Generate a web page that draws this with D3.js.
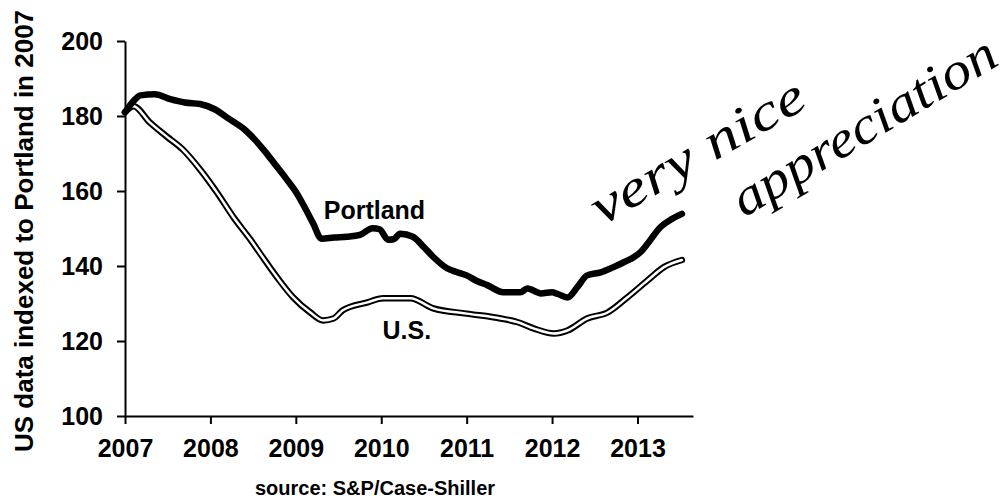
<!DOCTYPE html>
<html>
<head>
<meta charset="utf-8">
<script src="https://cdn.jsdelivr.net/npm/d3@7"></script>
<style>
  body { margin: 0; background: #fff; }
  svg { display: block; }
  .axis path, .axis line { stroke: #000; stroke-width: 2px; }
  .axis text { font-family: "Liberation Sans", Arial, sans-serif; font-weight: bold; font-size: 25px; fill: #000; }
  .lbl { font-family: "Liberation Sans", Arial, sans-serif; font-weight: bold; fill: #000; }
  .hand { font-family: "Liberation Serif", serif; font-style: italic; font-weight: normal; fill: #000; }
</style>
</head>
<body>
<div id="chart"></div>
<script>
// datos (año decimal, indice)
const portlandYears = [2007.0, 2007.1, 2007.18, 2007.35, 2007.53, 2007.7, 2007.88, 2008.05, 2008.2, 2008.4,
  2008.52, 2008.64, 2008.76, 2008.88, 2009.0, 2009.1, 2009.2, 2009.3, 2009.45, 2009.6,
  2009.75, 2009.9, 2009.98, 2010.08, 2010.15, 2010.22, 2010.37, 2010.5, 2010.61, 2010.77,
  2010.88, 2011.0, 2011.12, 2011.24, 2011.43, 2011.63, 2011.71, 2011.87, 2012.0, 2012.06,
  2012.18, 2012.3, 2012.41, 2012.57, 2012.7, 2012.84, 2012.96, 2013.04, 2013.12, 2013.27,
  2013.4, 2013.52];
const portlandValues = [181, 184, 185.5, 185.8, 184.5, 183.6, 183.2, 181.8, 179.5, 176.4,
  173.7, 170.5, 167, 163.5, 159.8, 155.8, 151.5, 147.3, 147.6, 147.8,
  148.3, 150.1, 149.8, 147, 147.2, 148.6, 147.8, 145, 142.4, 139.4,
  138.4, 137.5, 136, 134.9, 133, 133, 134, 132.7, 133, 132.6,
  131.6, 134.5, 137.5, 138.3, 139.5, 141, 142.4, 143.8, 146, 150.4,
  152.5, 153.9];

const usYears = [2007.0, 2007.1, 2007.29, 2007.49, 2007.68, 2007.88, 2008.08, 2008.27, 2008.47, 2008.58,
  2008.78, 2008.97, 2009.17, 2009.32, 2009.44, 2009.55, 2009.84, 2010.02, 2010.34, 2010.61,
  2011.0, 2011.4, 2011.6, 2011.79, 2012.02, 2012.18, 2012.41, 2012.65, 2012.88, 2013.12,
  2013.31, 2013.52];
const usValues = [181, 182.6, 178.3, 174.5, 171, 165.7, 159.5, 153, 147, 143.4,
  137, 131.6, 127.6, 125.5, 126, 128.2, 130.3, 131.4, 131.4, 128.7,
  127.3, 126, 125, 123.3, 122, 122.8, 126, 127.6, 131.6, 136.2,
  139.7, 141.6];

const yTicks = [100, 120, 140, 160, 180, 200];
const xTicks = [2007, 2008, 2009, 2010, 2011, 2012, 2013];

const width = 1003, height = 499;
const margin = { top: 41, left: 125 };
const innerW = 568, innerH = 375;

const svg = d3.select("#chart").append("svg")
  .attr("width", width)
  .attr("height", height);

const g = svg.append("g")
  .attr("transform", "translate(" + margin.left + "," + margin.top + ")");

const x = d3.scaleLinear().domain([2007, 2013.65]).range([0, innerW]);
const y = d3.scaleLinear().domain([100, 200]).range([innerH, 0]);

// ejes
g.append("g")
  .attr("class", "axis")
  .call(d3.axisLeft(y).tickValues(yTicks).tickSize(8).tickSizeOuter(0).tickPadding(14));

g.append("g")
  .attr("class", "axis")
  .attr("transform", "translate(0," + innerH + ")")
  .call(d3.axisBottom(x).tickValues(xTicks).tickFormat(d3.format("d")).tickSize(8).tickSizeOuter(0).tickPadding(15));

const line = d3.line()
  .x(d => x(d[0]))
  .y(d => y(d[1]))
  .curve(d3.curveMonotoneX);

const portland = portlandYears.map((d, i) => [d, portlandValues[i]]);
const us = usYears.map((d, i) => [d, usValues[i]]);

// linea doble para U.S.
g.append("path")
  .datum(us)
  .attr("fill", "none")
  .attr("stroke", "#000")
  .attr("stroke-width", 6.5)
  .attr("stroke-linecap", "round")
  .attr("d", line);

g.append("path")
  .datum(us)
  .attr("fill", "none")
  .attr("stroke", "#fff")
  .attr("stroke-width", 2.5)
  .attr("stroke-linecap", "round")
  .attr("d", line);

g.append("path")
  .datum(portland)
  .attr("fill", "none")
  .attr("stroke", "#000")
  .attr("stroke-width", 6.5)
  .attr("stroke-linejoin", "round")
  .attr("stroke-linecap", "round")
  .attr("d", line);

// etiquetas
g.append("text").attr("class", "lbl")
  .attr("x", x(2009.92)).attr("y", y(152.5))
  .attr("text-anchor", "middle")
  .style("font-size", "25px")
  .text("Portland");

g.append("text").attr("class", "lbl")
  .attr("x", x(2010.3)).attr("y", y(120.5))
  .attr("text-anchor", "middle")
  .style("font-size", "25px")
  .text("U.S.");

svg.append("text").attr("class", "lbl")
  .attr("transform", "translate(33,231) rotate(-90)")
  .attr("text-anchor", "middle")
  .style("font-size", "26px")
  .text("US data indexed to Portland in 2007");

svg.append("text").attr("class", "lbl")
  .attr("x", 375).attr("y", 495)
  .attr("text-anchor", "middle")
  .style("font-size", "20px")
  .text("source: S&P/Case-Shiller");

// nota escrita a mano
svg.append("text").attr("class", "hand")
  .attr("transform", "translate(602,226) rotate(-30)")
  .attr("textLength", 240)
  .attr("lengthAdjust", "spacingAndGlyphs")
  .style("font-size", "52px")
  .text("very nice");

svg.append("text").attr("class", "hand")
  .attr("transform", "translate(744,218) rotate(-31)")
  .attr("textLength", 300)
  .attr("lengthAdjust", "spacingAndGlyphs")
  .style("font-size", "52px")
  .text("appreciation");
</script>
</body>
</html>
